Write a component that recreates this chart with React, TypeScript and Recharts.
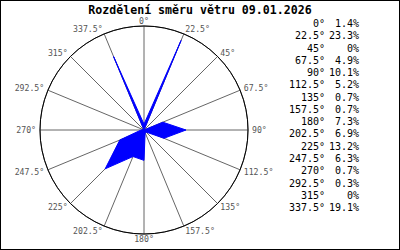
import React from 'react';
import { RadarChart, Radar, PolarGrid, PolarAngleAxis, PolarRadiusAxis } from 'recharts';

const directions = ['0°', '22.5°', '45°', '67.5°', '90°', '112.5°', '135°', '157.5°', '180°', '202.5°', '225°', '247.5°', '270°', '292.5°', '315°', '337.5°'];
const shares = [1.4, 23.3, 0, 4.9, 10.1, 5.2, 0.7, 0.7, 7.3, 6.9, 13.2, 6.3, 0.7, 0.3, 0, 19.1];
const shareLabels = ['1.4%', '23.3%', '0%', '4.9%', '10.1%', '5.2%', '0.7%', '0.7%', '7.3%', '6.9%', '13.2%', '6.3%', '0.7%', '0.3%', '0%', '19.1%'];
const title = 'Rozdělení směru větru 09.01.2026';

const mono = '"DejaVu Sans Mono", "Liberation Mono", monospace';

// label sits just outside the circle, anchored away from the centre
function DirTick(props: any) {
    const { x, y, cx, cy, payload } = props;
    const dx = x - cx;
    const dy = y - cy;
    const len = Math.sqrt(dx * dx + dy * dy) || 1;
    const sin = dx / len;
    const cos = -dy / len;
    const r = len - 8;
    const px = cx + r * sin;
    const py = cy - r * cos;
    const anchor = sin > 0.05 ? 'start' : sin < -0.05 ? 'end' : 'middle';
    return (
        <text x={px + 4 * sin} y={py - 5 * cos} textAnchor={anchor} dominantBaseline="central" fill="#555" fontFamily={mono} fontSize={8.2}>
            {payload.value}
        </text>
    );
}

export default function App() {
    const data = directions.map((d, i) => ({ dir: d, value: shares[i] }));

    return (
        <div style={{ position: 'fixed', left: 0, top: 0, width: 400, height: 250, boxSizing: 'border-box', border: '1px solid #000', background: '#fff', overflow: 'hidden' }}>
            <div style={{ position: 'absolute', left: 0, top: 4, width: 398, textAlign: 'center', fontFamily: mono, fontWeight: 'bold', fontSize: 11.6, lineHeight: '11px', color: '#000' }}>
                {title}
            </div>
            <div style={{ position: 'absolute', left: -1, top: -1 }}>
                <RadarChart width={290} height={250} data={data} cx={144} cy={130} outerRadius={104} margin={{ top: 0, right: 0, bottom: 0, left: 0 }}>
                    <PolarGrid gridType="circle" polarRadius={[104]} stroke="#666" strokeWidth={1} />
                    <PolarAngleAxis
                        dataKey="dir"
                        axisLine={{ stroke: '#000', strokeWidth: 1 }}
                        axisLineType="circle"
                        tickLine={false}
                        tick={<DirTick />}
                    />
                    <PolarRadiusAxis domain={[0, 25]} tick={false} axisLine={false} tickCount={2} />
                    <Radar dataKey="value" stroke="#0000ff" strokeWidth={1} fill="#0000ff" fillOpacity={1} dot={false} isAnimationActive={false} />
                </RadarChart>
            </div>
            {directions.map((d, i) => (
                <div key={d} style={{ position: 'absolute', left: 282, top: 17 + i * 12.27, width: 80, fontFamily: mono, fontSize: 10, color: '#000', lineHeight: '12px', whiteSpace: 'pre' }}>
                    <span style={{ display: 'inline-block', width: 42, textAlign: 'right' }}>{d}</span>
                    <span style={{ display: 'inline-block', width: 34, textAlign: 'right' }}>{shareLabels[i]}</span>
                </div>
            ))}
        </div>
    );
}
